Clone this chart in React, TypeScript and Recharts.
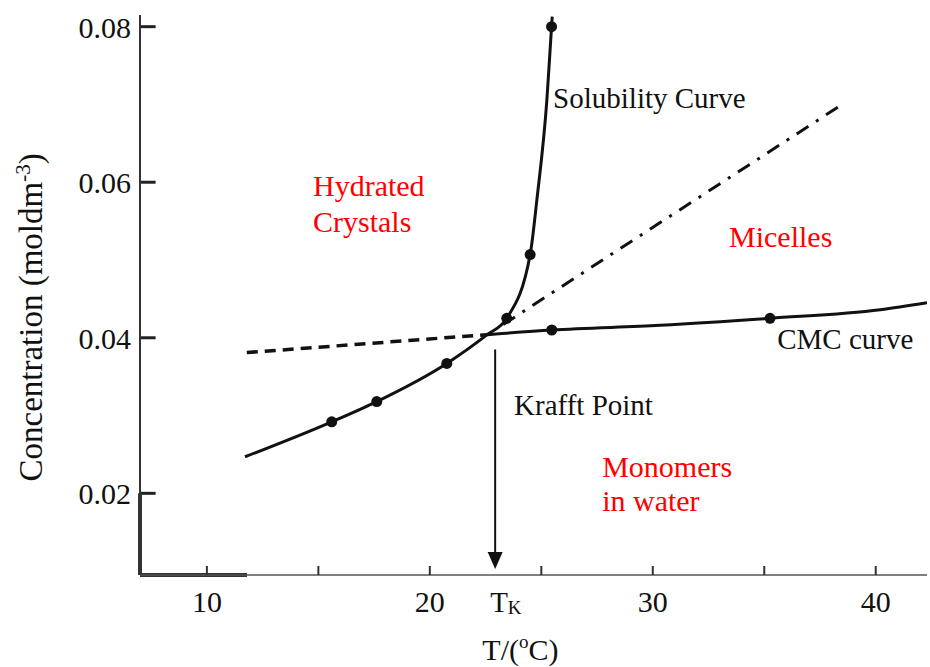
import React from "react";
import {
  LineChart,
  Line,
  XAxis,
  YAxis,
  ReferenceLine,
  ReferenceDot,
  Label,
} from "recharts";

const SERIF = '"Liberation Serif", "Times New Roman", serif';
const INK = "#111111";
const RED = "#ff0000";

// Solubility curve: temperature (°C) vs concentration (mol dm^-3); marked = measured point
const solubilityT = [11.71, 15.6, 17.62, 20.76, 22.57, 23.45, 24.5, 24.8, 25.25, 25.46, 25.49];
const solubilityC = [0.0247, 0.0292, 0.0318, 0.0367, 0.0404, 0.0425, 0.0507, 0.0577, 0.0706, 0.08, 0.0813];
const solubilityMarked = [false, true, true, true, false, true, true, false, false, true, false];

// CMC curve above the Krafft point
const cmcT = [22.57, 25.47, 30.33, 35.26, 40.2, 42.3];
const cmcC = [0.0404, 0.041, 0.0416, 0.0425, 0.0436, 0.0445];
const cmcMarked = [false, true, false, true, false, false];

// dashed CMC extension below the Krafft point
const cmcBelowT = [11.79, 22.57];
const cmcBelowC = [0.0381, 0.0404];

// dash-dot solubility extension into the micelle region
const micelleT = [23.29, 38.33];
const micelleC = [0.0417, 0.0697];

const krafftT = 22.93;
const krafftTopC = 0.0385;
const axisBottomC = 0.01;

const xMin = 7;
const xTicks = [10, 15, 20, krafftT, 25, 30, 35, 40];
const yTicks = [0.02, 0.04, 0.06, 0.08];

const notes = [
  { text: "Solubility Curve", t: 25.53, c: 0.0695, red: false },
  { text: "Hydrated", t: 14.76, c: 0.0582, red: true },
  { text: "Crystals", t: 14.76, c: 0.0536, red: true },
  { text: "Micelles", t: 33.42, c: 0.0517, red: true },
  { text: "CMC curve", t: 35.58, c: 0.0385, red: false },
  { text: "Krafft Point", t: 23.78, c: 0.0301, red: false },
  { text: "Monomers", t: 27.73, c: 0.0221, red: true },
  { text: "in water", t: 27.73, c: 0.0177, red: true },
];

const toPoints = (ts: number[], cs: number[], marked?: boolean[]) =>
  ts.map((t, i) => ({ t, c: cs[i], marked: marked ? marked[i] : false }));

const solubility = toPoints(solubilityT, solubilityC, solubilityMarked);
const cmc = toPoints(cmcT, cmcC, cmcMarked);
const cmcBelow = toPoints(cmcBelowT, cmcBelowC);
const micelle = toPoints(micelleT, micelleC);

const marker = (props: any) => {
  const { cx, cy, payload, index } = props;
  if (!payload?.marked) return <g key={`m-${index}`} />;
  return <circle key={`m-${index}`} cx={cx} cy={cy} r={5.5} fill={INK} />;
};

const XTick = (props: any) => {
  const { x, y, payload } = props;
  const v = payload.value;
  if (v === krafftT) {
    return (
      <text x={x - 5} y={y + 37} fontFamily={SERIF} fontSize={29} fill={INK}>
        T
        <tspan fontSize={19} dy={2}>
          K
        </tspan>
      </text>
    );
  }
  return (
    <g>
      <line x1={x} x2={x} y1={y} y2={y - 9} stroke="#333" strokeWidth={2} />
      {v % 10 === 0 && (
        <text x={x} y={y + 37} textAnchor="middle" fontFamily={SERIF} fontSize={30} fill={INK}>
          {v}
        </text>
      )}
    </g>
  );
};

const YTick = (props: any) => {
  const { x, y, payload } = props;
  return (
    <text x={x - 9} y={y + 11} textAnchor="end" fontFamily={SERIF} fontSize={30} fill={INK}>
      {payload.value.toFixed(2)}
    </text>
  );
};

const YTitle = (props: any) => {
  const { viewBox } = props;
  const x = viewBox.x + 2;
  const y = viewBox.y + viewBox.height * 0.54;
  return (
    <text
      x={x}
      y={y}
      transform={`rotate(-90, ${x}, ${y})`}
      textAnchor="middle"
      fontFamily={SERIF}
      fontSize={33}
      fill={INK}
    >
      Concentration (moldm
      <tspan fontSize={21} dy={-12}>
        -3
      </tspan>
      <tspan dy={12}>)</tspan>
    </text>
  );
};

const XTitle = (props: any) => {
  const { viewBox } = props;
  return (
    <text
      x={viewBox.x + viewBox.width * 0.435}
      y={viewBox.y + viewBox.height + 23}
      fontFamily={SERIF}
      fontSize={30}
      fill={INK}
    >
      T/(
      <tspan fontSize={19} dy={-12}>
        o
      </tspan>
      <tspan dy={12}>C)</tspan>
    </text>
  );
};

// Krafft point drop line ending in a filled arrowhead on the T axis
const krafftArrow = (props: any) => {
  const { x1, y1, x2, y2 } = props;
  return (
    <g>
      <line x1={x1} y1={y1} x2={x2} y2={y2 - 14} stroke={INK} strokeWidth={2} />
      <polygon points={`${x2 - 7.5},${y2 - 19} ${x2 + 7.5},${y2 - 19} ${x2},${y2 - 2}`} fill={INK} />
    </g>
  );
};

export default function App() {
  return (
    <div style={{ position: "absolute", left: 0, top: 0, background: "#fff" }}>
      <LineChart width={930} height={667} margin={{ top: 15, right: 3, bottom: 30, left: 40 }}>
        <XAxis
          dataKey="t"
          type="number"
          domain={[xMin, 42.3]}
          allowDataOverflow
          ticks={xTicks}
          interval={0}
          tick={XTick}
          tickLine={false}
          tickSize={0}
          tickMargin={0}
          axisLine={{ stroke: "#555", strokeWidth: 1.5 }}
          height={62}
        >
          <Label content={XTitle} />
        </XAxis>
        <YAxis
          type="number"
          domain={[0.0095, 0.0815]}
          allowDataOverflow
          ticks={yTicks}
          interval={0}
          tick={YTick}
          tickLine={false}
          tickSize={0}
          tickMargin={0}
          axisLine={{ stroke: "#333", strokeWidth: 2 }}
          width={100}
        >
          <Label content={YTitle} />
        </YAxis>

        {/* inward tick stubs on the concentration axis */}
        {yTicks.map((v) => (
          <ReferenceLine
            key={`stub-${v}`}
            segment={[{ x: xMin, y: v }, { x: xMin + 0.7, y: v }]}
            stroke="#222"
            strokeWidth={3}
            ifOverflow="visible"
          />
        ))}

        {/* heavy corner of the axes */}
        <ReferenceLine
          segment={[{ x: xMin, y: 0.0095 }, { x: xMin, y: 0.02 }]}
          stroke="#333"
          strokeWidth={4}
          ifOverflow="visible"
        />
        <ReferenceLine
          segment={[{ x: xMin, y: 0.0095 }, { x: 11.8, y: 0.0095 }]}
          stroke="#333"
          strokeWidth={4}
          ifOverflow="visible"
        />

        <Line
          data={cmcBelow}
          dataKey="c"
          type="linear"
          stroke={INK}
          strokeWidth={3.5}
          strokeDasharray="11 7"
          dot={false}
          isAnimationActive={false}
        />
        <Line
          data={micelle}
          dataKey="c"
          type="linear"
          stroke={INK}
          strokeWidth={3}
          strokeDasharray="14 9 3 9"
          dot={false}
          isAnimationActive={false}
        />
        <Line
          data={cmc}
          dataKey="c"
          type="monotone"
          stroke={INK}
          strokeWidth={3}
          dot={marker}
          activeDot={false}
          isAnimationActive={false}
        />
        <Line
          data={solubility}
          dataKey="c"
          type="monotone"
          stroke={INK}
          strokeWidth={3}
          dot={marker}
          activeDot={false}
          isAnimationActive={false}
        />

        <ReferenceLine
          segment={[{ x: krafftT, y: krafftTopC }, { x: krafftT, y: axisBottomC }]}
          shape={krafftArrow}
          ifOverflow="visible"
        />

        {notes.map((n) => (
          <ReferenceDot
            key={n.text}
            x={n.t}
            y={n.c}
            r={0}
            ifOverflow="visible"
            shape={(p: any) => (
              <text
                x={p.cx}
                y={p.cy}
                fontFamily={SERIF}
                fontSize={n.red ? 30 : 29}
                fill={n.red ? RED : INK}
              >
                {n.text}
              </text>
            )}
          />
        ))}
      </LineChart>
    </div>
  );
}
